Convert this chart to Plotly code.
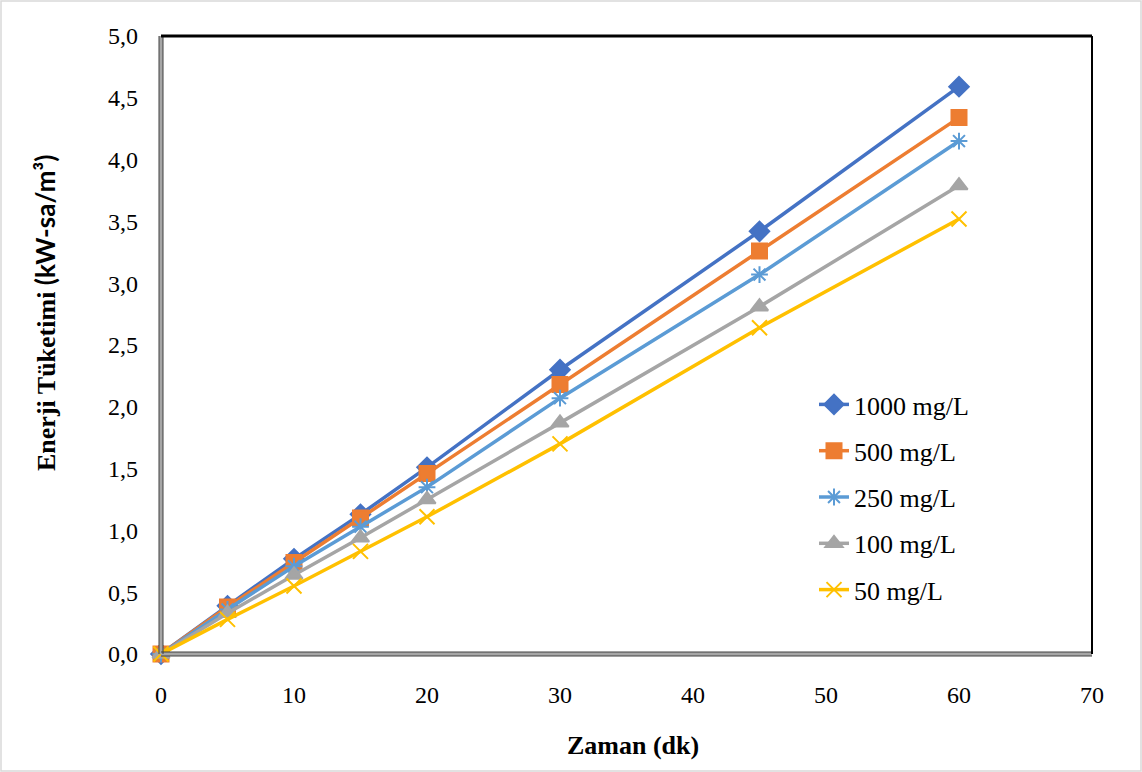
import plotly.graph_objects as go

time_min = [0, 5, 10, 15, 20, 30, 45, 60]
e_1000 = [0.00, 0.39, 0.77, 1.13, 1.51, 2.30, 3.42, 4.59]
e_500 = [0.00, 0.38, 0.74, 1.10, 1.46, 2.18, 3.26, 4.34]
e_250 = [0.00, 0.36, 0.71, 1.03, 1.35, 2.07, 3.07, 4.15]
e_100 = [0.00, 0.33, 0.64, 0.94, 1.25, 1.87, 2.81, 3.79]
e_50 = [0.00, 0.28, 0.55, 0.83, 1.11, 1.70, 2.64, 3.52]

x_title = "Zaman (dk)"
y_title_main = "Enerji Tüketimi "
y_title_unit = "(kW-sa/m³)"

series = [
    ("1000 mg/L", e_1000, "#4472C4", "diamond", 15),
    ("500 mg/L", e_500, "#ED7D31", "square", 15),
    ("250 mg/L", e_250, "#5B9BD5", "asterisk-open", 14),
    ("100 mg/L", e_100, "#A5A5A5", "triangle-up", 15),
    ("50 mg/L", e_50, "#FFC000", "x-thin-open", 15),
]

fig = go.Figure()
for i, (name, ys, col, sym, sz) in enumerate(series):
    fig.add_trace(go.Scatter(
        x=time_min, y=ys, name=name, mode="lines+markers",
        legendgroup=f"g{i}", cliponaxis=False,
        line=dict(color=col, width=3.5),
        marker=dict(symbol=sym, size=sz, color=col,
                    line=dict(color=col, width=2)),
    ))

W, H = 1142, 772
L, R, T, B = 161, 1092, 36, 654
pw, ph = R - L, B - T

def px(xp):
    return (xp - L) / pw

def py(yp):
    return (B - yp) / ph

font_serif = "Liberation Serif, Times New Roman, serif"

fig.update_layout(
    width=W, height=H,
    margin=dict(l=L, r=W - R, t=T, b=H - B),
    paper_bgcolor="white", plot_bgcolor="white",
    separators=",.",
    font=dict(family=font_serif, size=24, color="black"),
    showlegend=True,
    legend=dict(x=px(814), y=py(381), xanchor="left", yanchor="top",
                font=dict(size=26, family=font_serif),
                tracegroupgap=9.5, traceorder="grouped",
                bgcolor="rgba(0,0,0,0)"),
    xaxis=dict(range=[0, 70], dtick=10, tick0=0, showgrid=False, zeroline=False,
               showline=False, ticks="", ticklabelstandoff=24,
               tickfont=dict(size=24, family=font_serif)),
    yaxis=dict(range=[0, 5], dtick=0.5, tick0=0, tickformat=".1f",
               showgrid=False, zeroline=False, showline=False, ticks="",
               ticklabelstandoff=22,
               tickfont=dict(size=24, family=font_serif)),
    annotations=[
        dict(text=f"<b>{x_title}</b>", xref="paper", yref="paper",
             x=px(633), y=py(745), xanchor="center", yanchor="middle",
             showarrow=False, font=dict(size=26, family=font_serif)),
        dict(text=f"<b>{y_title_main}<span style='font-family:Lato'>{y_title_unit}</span></b>",
             xref="paper", yref="paper", textangle=-90,
             x=px(45), y=py(313), xanchor="center", yanchor="middle",
             showarrow=False, font=dict(size=26, family=font_serif)),
    ],
    shapes=[
        dict(type="rect", xref="paper", yref="paper",
             x0=px(1), x1=px(W - 1), y0=py(H - 1), y1=py(1),
             line=dict(color="#D9D9D9", width=1.5)),
        dict(type="line", xref="paper", yref="paper", x0=0, x1=0, y0=0, y1=1,
             line=dict(color="#A6A6A6", width=4)),
        dict(type="line", xref="paper", yref="paper", x0=0, x1=1, y0=0, y1=0,
             line=dict(color="#A6A6A6", width=4)),
        dict(type="line", xref="paper", yref="paper", x0=px(L - 2), x1=px(L - 2), y0=0, y1=1,
             line=dict(color="#404040", width=1)),
        dict(type="line", xref="paper", yref="paper", x0=px(L + 2), x1=px(L + 2), y0=0, y1=1,
             line=dict(color="#404040", width=1)),
        dict(type="line", xref="paper", yref="paper", x0=0, x1=1, y0=py(B + 2), y1=py(B + 2),
             line=dict(color="#404040", width=1)),
        dict(type="line", xref="paper", yref="paper", x0=0, x1=1, y0=py(B - 2), y1=py(B - 2),
             line=dict(color="#404040", width=1)),
        dict(type="line", xref="paper", yref="paper", x0=1, x1=1, y0=0, y1=1,
             line=dict(color="black", width=2)),
        dict(type="line", xref="paper", yref="paper", x0=0, x1=1, y0=1, y1=1,
             line=dict(color="black", width=3)),
    ],
)

fig.write_html("out.html")
